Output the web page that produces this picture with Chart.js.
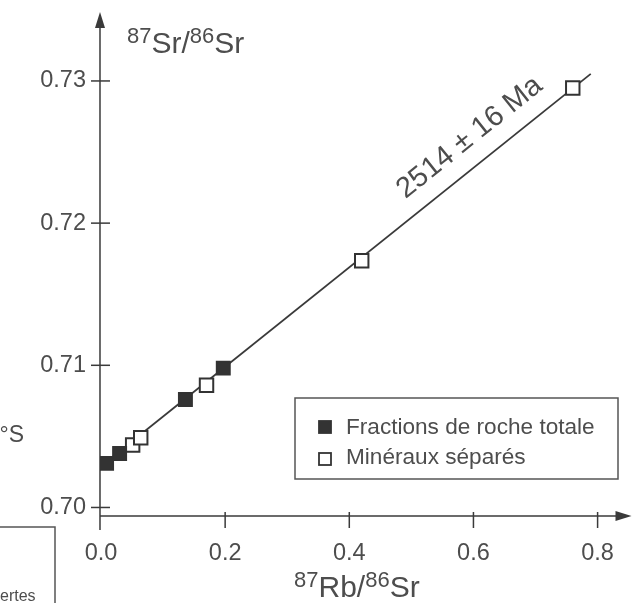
<!DOCTYPE html>
<html>
<head>
<meta charset="utf-8">
<script src="https://cdn.jsdelivr.net/npm/chart.js@4/dist/chart.umd.min.js"></script>
<style>
html,body{margin:0;padding:0;background:#fff;}
#wrap{width:641px;height:603px;position:relative;overflow:hidden;}
canvas{display:block;}
</style>
</head>
<body>
<div id="wrap"><canvas id="c" width="641" height="603"></canvas></div>
<script>
// ---- data ----
const wholeRockX = [0.009, 0.030, 0.136, 0.197];
const wholeRockY = [0.7031, 0.7038, 0.7076, 0.7098];
const mineralX = [0.051, 0.064, 0.170, 0.420, 0.760];
const mineralY = [0.7044, 0.7049, 0.7086, 0.71735, 0.7295];
const isochronX = [0.0, 0.789];
const isochronY = [0.7029, 0.7305];
const xTicks = [0.0, 0.2, 0.4, 0.6, 0.8];
const yTicks = [0.70, 0.71, 0.72, 0.73];
const seriesLabels = ['Fractions de roche totale', 'Minéraux séparés'];
const ageLabel = '2514 \u00B1 16 Ma';
const ageAnchorX = 0.62;
const xTitleParts = ['87', 'Rb/', '86', 'Sr'];
const yTitleParts = ['87', 'Sr/', '86', 'Sr'];

const family = "'Liberation Sans', Arial, Helvetica, sans-serif";
const ink = '#3a3a3a';
const textInk = '#4d4d4d';

function pts(xs, ys) { return xs.map((x, i) => ({ x: x, y: ys[i] })); }

function drawTitle(ctx, parts, x, y) {
  let cx = x;
  parts.forEach((t, i) => {
    const sup = i % 2 === 0;
    ctx.font = (sup ? 22 : 30) + 'px ' + family;
    ctx.fillText(t, cx, sup ? y - 10 : y);
    cx += ctx.measureText(t).width;
  });
}

const axesPlugin = {
  id: 'axesPlugin',
  beforeDatasetsDraw(chart) {
    const ctx = chart.ctx;
    const xs = chart.scales.x, ys = chart.scales.y;
    const ca = chart.chartArea;
    const x0 = xs.getPixelForValue(0);
    const yb = ca.bottom;
    ctx.save();
    ctx.strokeStyle = ink;
    ctx.fillStyle = ink;
    ctx.lineWidth = 1.5;
    // y axis
    ctx.beginPath();
    ctx.moveTo(x0 - 1, ca.top + 10);
    ctx.lineTo(x0 - 1, yb + 14);
    ctx.stroke();
    ctx.beginPath();
    ctx.moveTo(x0 - 1, ca.top);
    ctx.lineTo(x0 - 6, ca.top + 16);
    ctx.lineTo(x0 + 4, ca.top + 16);
    ctx.closePath();
    ctx.fill();
    // x axis
    ctx.beginPath();
    ctx.moveTo(x0 - 1, yb);
    ctx.lineTo(ca.right - 8, yb);
    ctx.stroke();
    ctx.beginPath();
    ctx.moveTo(ca.right + 2, yb);
    ctx.lineTo(ca.right - 14, yb - 5);
    ctx.lineTo(ca.right - 14, yb + 5);
    ctx.closePath();
    ctx.fill();
    // y ticks (crossing)
    yTicks.forEach(v => {
      const p = ys.getPixelForValue(v);
      ctx.beginPath();
      ctx.moveTo(x0 - 10, p);
      ctx.lineTo(x0 + 9, p);
      ctx.stroke();
    });
    // x ticks
    xTicks.forEach(v => {
      if (v === 0) return;
      const p = xs.getPixelForValue(v);
      ctx.beginPath();
      ctx.moveTo(p, yb - 4);
      ctx.lineTo(p, yb + 12);
      ctx.stroke();
    });
    ctx.restore();
  },
  afterDatasetsDraw(chart) {
    const ctx = chart.ctx;
    const xs = chart.scales.x, ys = chart.scales.y;
    ctx.save();
    ctx.fillStyle = textInk;
    ctx.textAlign = 'left';
    ctx.textBaseline = 'alphabetic';
    // axis titles
    drawTitle(ctx, yTitleParts, 127, 53);
    drawTitle(ctx, xTitleParts, 294, 597);

    // age label along the isochron
    const ax1 = xs.getPixelForValue(isochronX[0]), ay1 = ys.getPixelForValue(isochronY[0]);
    const ax2 = xs.getPixelForValue(isochronX[1]), ay2 = ys.getPixelForValue(isochronY[1]);
    const ang = Math.atan2(ay2 - ay1, ax2 - ax1);
    const t = (ageAnchorX - isochronX[0]) / (isochronX[1] - isochronX[0]);
    const px = ax1 + t * (ax2 - ax1), py = ay1 + t * (ay2 - ay1);
    const off = 26;
    const cx = px + Math.sin(ang) * off, cy = py - Math.cos(ang) * off;
    ctx.save();
    ctx.translate(cx, cy);
    ctx.rotate(ang);
    ctx.font = '29px ' + family;
    ctx.textAlign = 'center';
    ctx.textBaseline = 'middle';
    ctx.fillText(ageLabel, 0, 0);
    ctx.restore();

    // legend box
    const L = 295, T = 398, R = 618, B = 479;
    ctx.strokeStyle = '#555';
    ctx.lineWidth = 1.5;
    ctx.strokeRect(L, T, R - L, B - T);
    const ds = chart.data.datasets;
    [[0, 427, 434], [1, 459, 464]].forEach(([i, my, by]) => {
      const d = ds[i];
      ctx.fillStyle = d.backgroundColor;
      ctx.strokeStyle = d.borderColor;
      ctx.lineWidth = 1.8;
      ctx.fillRect(319, my - 6, 12, 12);
      ctx.strokeRect(319, my - 6, 12, 12);
      ctx.fillStyle = textInk;
      ctx.font = '22.6px ' + family;
      ctx.textAlign = 'left';
      ctx.textBaseline = 'alphabetic';
      ctx.fillText(d.label, 346, by);
    });

    // cropped fragments of the neighbouring figure at the left edge
    ctx.fillStyle = textInk;
    ctx.font = '23px ' + family;
    ctx.textAlign = 'right';
    ctx.fillText('\u00B0S', 24, 442);
    ctx.font = '16px ' + family;
    ctx.textAlign = 'left';
    ctx.fillText('ertes', 0, 601);
    ctx.strokeStyle = '#555';
    ctx.lineWidth = 1.5;
    ctx.beginPath();
    ctx.moveTo(0, 527);
    ctx.lineTo(55, 527);
    ctx.lineTo(55, 603);
    ctx.stroke();
    ctx.restore();
  }
};

const chart = new Chart(document.getElementById('c'), {
  type: 'scatter',
  data: {
    datasets: [
      {
        label: seriesLabels[0],
        data: pts(wholeRockX, wholeRockY),
        pointStyle: 'rect',
        pointRadius: 9.5,
        backgroundColor: '#333333',
        borderColor: '#333333',
        borderWidth: 1.5,
        order: 1
      },
      {
        label: seriesLabels[1],
        data: pts(mineralX, mineralY),
        pointStyle: 'rect',
        pointRadius: 9.5,
        backgroundColor: '#ffffff',
        borderColor: '#333333',
        borderWidth: 2,
        order: 1
      },
      {
        type: 'line',
        label: 'isochrone',
        data: pts(isochronX, isochronY),
        borderColor: ink,
        borderWidth: 1.8,
        pointRadius: 0,
        fill: false,
        order: 2
      }
    ]
  },
  options: {
    responsive: false,
    animation: false,
    devicePixelRatio: 1,
    layout: { padding: { left: 0, right: 7, top: 12, bottom: 0 } },
    plugins: { legend: { display: false }, tooltip: { enabled: false } },
    scales: {
      x: {
        type: 'linear',
        min: -0.0016,
        max: 0.8514,
        afterFit(s) { s.height = 87; s.paddingLeft = 0; s.paddingRight = 0; s.paddingTop = 0; s.paddingBottom = 0; },
        afterBuildTicks(s) { s.ticks = xTicks.map(v => ({ value: v })); },
        grid: { display: false, drawTicks: false },
        border: { display: false },
        ticks: {
          padding: 23,
          color: textInk,
          font: { family: family, size: 23.5 },
          maxRotation: 0,
          autoSkip: false,
          callback: v => Number(v).toFixed(1)
        }
      },
      y: {
        type: 'linear',
        min: 0.6994,
        max: 0.73485,
        afterFit(s) { s.width = 100; s.paddingLeft = 0; s.paddingRight = 0; s.paddingTop = 0; s.paddingBottom = 0; },
        afterBuildTicks(s) { s.ticks = yTicks.map(v => ({ value: v })); },
        grid: { display: false, drawTicks: false },
        border: { display: false },
        ticks: {
          padding: 14,
          color: textInk,
          font: { family: family, size: 23.5 },
          autoSkip: false,
          callback: v => Number(v).toFixed(2)
        }
      }
    }
  },
  plugins: [axesPlugin]
});
</script>
</body>
</html>
